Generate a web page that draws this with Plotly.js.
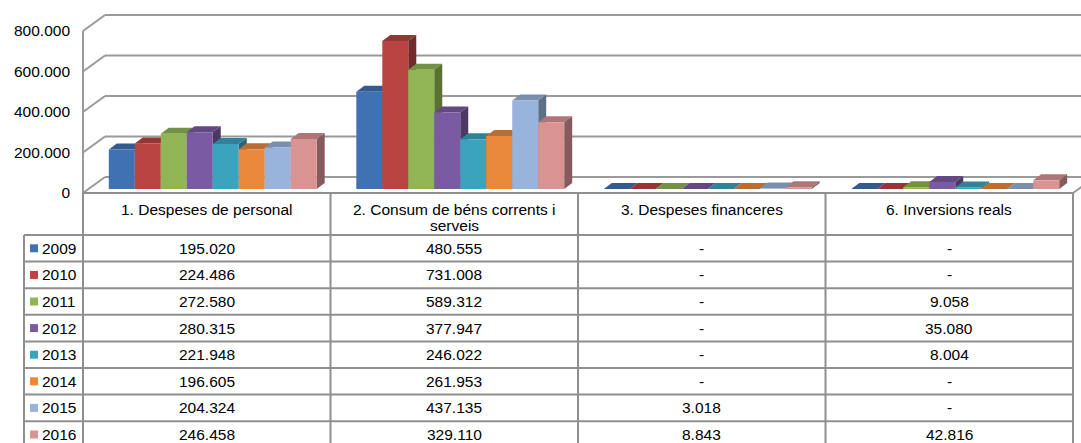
<!DOCTYPE html>
<html><head><meta charset="utf-8">
<script src="https://cdn.plot.ly/plotly-3.0.1.min.js"></script>
<style>html,body{margin:0;padding:0;background:#fff;overflow:hidden}</style>
</head><body><div id="chart" style="width:1081px;height:443px"></div>
<script>
// ---- data ----
const categories = ["1. Despeses de personal", "2. Consum de béns corrents i<br>serveis", "3. Despeses financeres", "6. Inversions reals"];
const years = ["2009", "2010", "2011", "2012", "2013", "2014", "2015", "2016"];
const s2009 = [195020, 480555, null, null];
const s2010 = [224486, 731008, null, null];
const s2011 = [272580, 589312, null, 9058];
const s2012 = [280315, 377947, null, 35080];
const s2013 = [221948, 246022, null, 8004];
const s2014 = [196605, 261953, null, null];
const s2015 = [204324, 437135, 3018, null];
const s2016 = [246458, 329110, 8843, 42816];
const yTicks = [0, 200000, 400000, 600000, 800000];

// ---- style ----
const series = [s2009, s2010, s2011, s2012, s2013, s2014, s2015, s2016];
const colors = ["#4072b3", "#b94441", "#91b454", "#7a5ba3", "#3ca3bf", "#ea893b", "#98b3dc", "#d99393"];
const FONT = {family: "Liberation Sans, Arial, sans-serif", size: 15.5, color: "#000"};
const LINE = "#8f8f8f";
const GRID = "#9a9a9a";

const W = 1081, H = 443;
const X0 = 89, XU = 247.5;          // pixel of x=-0.5 (bar plane), pixels per category
const Y0 = 189, YU = 162 / 800000;  // pixel of value 0 (bar plane), pixels per unit
const xRange = [-0.5 - X0 / XU, -0.5 + (W - X0) / XU];
const yRange = [-(H - Y0) / YU, Y0 / YU];
const pxX = p => -0.5 + (p - X0) / XU;
const dX = p => p / XU;
const dY = p => p / YU;
const paperX = p => p / W;
const paperY = p => 1 - p / H;

function shade(hex, f) {
  const n = parseInt(hex.slice(1), 16);
  const r = Math.round(((n >> 16) & 255) * f), g = Math.round(((n >> 8) & 255) * f), b = Math.round((n & 255) * f);
  return "rgb(" + r + "," + g + "," + b + ")";
}
function fmt(v) {
  if (v === null || v === undefined) return "-";
  return String(Math.round(v)).replace(/\B(?=(\d{3})+(?!\d))/g, ".");
}

const nS = series.length, groupW = 0.84, bw = groupW / nS;
const DX = dX(8), DY = dY(6);

const traces = series.map((s, i) => ({
  type: "bar", x: categories.map((_, c) => c), y: s,
  width: bw, offset: -groupW / 2 + i * bw,
  marker: {color: colors[i], line: {width: 0}},
  showlegend: false, hoverinfo: "skip"
}));

const shapes = [];
// back wall gridlines and left wall
yTicks.forEach(v => {
  shapes.push({type: "line", layer: "below", xref: "x", yref: "y",
    x0: pxX(105), x1: xRange[1] + 1, y0: v + dY(12), y1: v + dY(12), line: {color: GRID, width: 2}});
  shapes.push({type: "line", layer: "below", xref: "x", yref: "y",
    x0: pxX(83), x1: pxX(105), y0: v - dY(4), y1: v + dY(12), line: {color: GRID, width: 2}});
});
// front-left wall edge
shapes.push({type: "line", layer: "below", xref: "x", yref: "y",
  x0: pxX(83), x1: pxX(83), y0: yTicks[yTicks.length - 1] - dY(4), y1: -dY(4), line: {color: GRID, width: 2}});
// floor right edge
shapes.push({type: "line", layer: "below", xref: "x", yref: "y",
  x0: pxX(83 + XU * categories.length), x1: pxX(83 + XU * categories.length + 22), y0: -dY(4), y1: dY(12), line: {color: GRID, width: 2}});

// bar 3D faces
categories.forEach((_, c) => {
  series.forEach((s, i) => {
    const v = s[c] || 0;
    const xl = c - groupW / 2 + i * bw, xr = xl + bw;
    shapes.push({type: "path", layer: "between", xref: "x", yref: "y",
      path: `M${xl},${v} L${xr},${v} L${xr + DX},${v + DY} L${xl + DX},${v + DY} Z`,
      fillcolor: shade(colors[i], 0.8), line: {width: 0}});
    shapes.push({type: "path", layer: "between", xref: "x", yref: "y",
      path: `M${xr},0 L${xr},${v} L${xr + DX},${v + DY} L${xr + DX},${DY} Z`,
      fillcolor: shade(colors[i], 0.62), line: {width: 0}});
  });
});

// data table
const TL = 83, TW = XU, HT = 193, HB = 235, RH = 26.6, RL = 24;
const TR = TL + TW * categories.length, TB = HB + RH * years.length;
function pl(x0, y0, x1, y1) {
  shapes.push({type: "line", layer: "above", xref: "paper", yref: "paper",
    x0: paperX(x0), x1: paperX(x1), y0: paperY(y0), y1: paperY(y1), line: {color: LINE, width: 2}});
}
pl(TL, HT, TR, HT);
for (let k = 0; k <= years.length; k++) pl(RL, HB + k * RH, TR, HB + k * RH);
for (let i = 0; i <= categories.length; i++) pl(TL + i * TW, HT, TL + i * TW, TB);
pl(RL, HB, RL, TB);

const annotations = [];
categories.forEach((name, c) => {
  name.split("<br>").forEach((line, k) => {
    annotations.push({xref: "paper", yref: "paper", x: paperX(TL + TW * (c + 0.5)), y: paperY(209 + k * 16),
      xanchor: "center", yanchor: "middle", text: line, showarrow: false, font: FONT});
  });
});
years.forEach((yr, r) => {
  const cy = HB + RH * (r + 0.5);
  shapes.push({type: "rect", layer: "above", xref: "paper", yref: "paper",
    x0: paperX(30), x1: paperX(38), y0: paperY(cy - 4), y1: paperY(cy + 4),
    fillcolor: colors[r], line: {width: 0}});
  annotations.push({xref: "paper", yref: "paper", x: paperX(40), y: paperY(cy),
    xanchor: "left", yanchor: "middle", text: yr, showarrow: false, font: FONT});
  categories.forEach((_, c) => {
    annotations.push({xref: "paper", yref: "paper", x: paperX(TL + TW * (c + 0.5)), y: paperY(cy),
      xanchor: "center", yanchor: "middle", text: fmt(series[r][c]), showarrow: false, font: FONT});
  });
});

const layout = {
  width: W, height: H, margin: {l: 0, r: 0, t: 0, b: 0},
  paper_bgcolor: "#fff", plot_bgcolor: "rgba(0,0,0,0)",
  separators: ",.", barmode: "overlay",
  xaxis: {domain: [0, 1], range: xRange, visible: false, fixedrange: true},
  yaxis: {domain: [0, 1], range: yRange, anchor: "free", position: paperX(83),
    tickvals: yTicks, tickformat: ",.0f", showgrid: false, zeroline: false, showline: false,
    ticks: "", ticklabelshift: 4, ticklabelstandoff: 13, tickfont: FONT, fixedrange: true},
  shapes: shapes, annotations: annotations, showlegend: false
};
Plotly.newPlot("chart", traces, layout, {displayModeBar: false, staticPlot: true});
</script>
</body></html>
